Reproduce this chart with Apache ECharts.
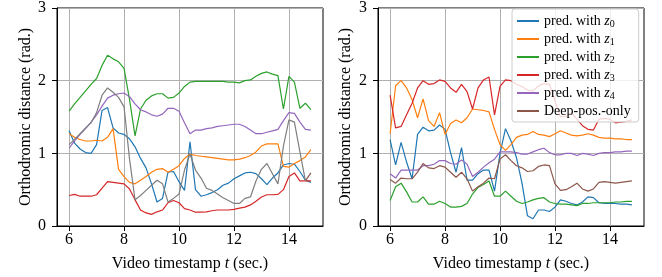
<!DOCTYPE html>
<html><head><meta charset="utf-8">
<script src="https://cdn.jsdelivr.net/npm/echarts@6/dist/echarts.min.js"></script>
<style>html,body{margin:0;padding:0;background:#fff}#c{width:662px;height:277px}</style>
</head><body><div id="c"></div>
<script>
const timestamps = [6.0,6.2,6.4,6.6,6.8,7.0,7.2,7.4,7.6,7.8,8.0,8.2,8.4,8.6,8.8,9.0,9.2,9.4,9.6,9.8,10.0,10.2,10.4,10.6,10.8,11.0,11.2,11.4,11.6,11.8,12.0,12.2,12.4,12.6,12.8,13.0,13.2,13.4,13.6,13.8,14.0,14.2,14.4,14.6,14.8];
const xTicks = [6,8,10,12,14];
const yTicks = [0,1,2,3];
const seriesNames = ['pred. with z0','pred. with z1','pred. with z2','pred. with z3','pred. with z4','Deep-pos.-only'];

// left panel
const leftZ0 = [1.31,1.14,1.06,1.01,1.00,1.12,1.59,1.63,1.35,1.28,1.26,1.20,1.09,0.93,0.80,0.58,0.33,0.38,0.74,0.75,0.61,0.49,1.16,0.50,0.41,0.43,0.46,0.50,0.56,0.59,0.65,0.69,0.73,0.74,0.72,0.65,0.57,0.66,0.73,0.84,0.86,0.85,0.75,0.63,0.60];
const leftZ1 = [1.27,1.22,1.19,1.17,1.17,1.18,1.17,1.22,1.34,0.78,0.68,0.60,0.58,0.63,0.68,0.74,0.78,0.79,0.74,0.78,0.83,0.93,0.99,0.97,0.96,0.95,0.94,0.93,0.92,0.91,0.91,0.92,0.94,0.97,1.02,1.10,1.13,1.13,1.13,0.82,0.81,0.86,0.90,0.95,1.05];
const leftZ2 = [1.58,1.68,1.77,1.86,1.95,2.03,2.21,2.35,2.30,2.26,2.17,1.74,1.24,1.61,1.73,1.79,1.82,1.82,1.76,1.77,1.83,1.92,1.98,1.99,1.99,1.99,1.99,1.99,1.99,1.98,1.98,1.97,2.00,2.01,2.06,2.10,2.12,2.09,2.07,1.61,2.06,1.98,1.62,1.69,1.60];
const leftZ3 = [0.42,0.435,0.41,0.41,0.41,0.43,0.52,0.61,0.60,0.59,0.58,0.51,0.36,0.22,0.18,0.16,0.195,0.22,0.32,0.35,0.32,0.24,0.22,0.19,0.19,0.195,0.21,0.22,0.22,0.22,0.23,0.245,0.26,0.29,0.34,0.40,0.43,0.43,0.435,0.50,0.68,0.73,0.62,0.62,0.62];
const leftZ4 = [1.07,1.17,1.26,1.34,1.43,1.53,1.65,1.76,1.80,1.82,1.83,1.78,1.68,1.60,1.57,1.53,1.51,1.54,1.62,1.62,1.58,1.42,1.27,1.32,1.32,1.34,1.35,1.37,1.38,1.39,1.40,1.40,1.37,1.32,1.27,1.27,1.29,1.31,1.33,1.45,1.56,1.55,1.43,1.33,1.32];
const leftGray = [1.12,1.19,1.27,1.35,1.42,1.56,1.80,1.90,1.84,1.77,1.64,0.92,0.36,0.42,0.49,0.56,0.63,0.58,0.33,0.38,0.44,0.77,0.99,0.77,0.66,0.52,0.49,0.44,0.39,0.35,0.31,0.31,0.38,0.40,0.62,0.78,0.86,0.72,0.58,1.10,1.46,1.43,1.02,0.62,null];
const leftDeep = [null,null,null,null,null,null,null,null,null,null,null,null,null,null,null,null,null,null,null,null,null,null,null,null,null,null,null,null,null,null,null,null,null,null,null,null,null,null,null,null,null,null,null,0.62,0.73];

// right panel
const rightZ0 = [1.19,0.84,1.15,0.88,0.65,1.26,1.36,1.31,1.32,1.39,1.33,1.01,0.74,1.08,0.63,0.63,0.72,0.77,0.77,0.48,1.00,1.34,1.17,0.94,0.59,0.14,0.10,0.22,0.22,0.20,0.26,0.36,0.34,0.31,0.29,0.33,0.40,0.39,0.32,0.31,0.31,0.31,0.30,0.30,0.29];
const rightZ1 = [1.27,1.93,2.00,1.90,1.74,1.49,1.75,1.45,1.37,1.56,1.26,1.41,1.46,1.42,1.49,1.61,1.60,1.59,1.57,1.33,1.12,1.04,1.12,1.22,1.25,1.26,1.30,1.26,1.25,1.23,1.27,1.31,1.28,1.25,1.24,1.25,1.27,1.25,1.22,1.21,1.21,1.20,1.20,1.19,1.19];
const rightZ2 = [0.35,0.54,0.59,0.47,0.33,0.33,0.40,0.30,0.30,0.34,0.31,0.26,0.26,0.27,0.31,0.44,0.53,0.57,0.62,0.41,0.41,0.48,0.41,0.34,0.31,0.33,0.36,0.38,0.39,0.33,0.31,0.30,0.30,0.29,0.28,0.31,0.31,0.32,0.32,0.32,0.32,0.33,0.33,0.34,0.34];
const rightZ3 = [1.80,1.35,1.37,1.53,1.69,1.90,2.00,1.95,1.96,2.01,1.99,1.90,1.84,1.95,1.85,1.61,1.90,2.01,2.05,1.53,1.92,2.01,2.00,1.95,1.92,1.87,1.86,1.93,1.96,1.95,1.72,1.50,1.51,1.56,1.47,1.38,1.33,1.32,1.47,1.48,1.47,1.42,1.43,1.44,1.46];
const rightZ4 = [0.72,0.66,0.77,0.77,0.77,0.77,0.83,0.83,0.85,0.90,0.90,0.86,0.85,0.91,0.85,0.68,0.74,0.81,0.87,0.92,1.02,1.02,1.02,1.01,0.99,0.99,1.02,1.05,1.07,1.01,0.98,0.98,1.00,1.00,0.97,1.00,0.99,0.97,1.00,1.01,1.01,1.02,1.02,1.03,1.03];
const rightDeep = [0.64,0.59,0.66,0.65,0.65,0.74,0.86,0.80,0.79,0.83,0.81,0.74,0.67,0.74,0.65,0.48,0.54,0.59,0.66,0.65,0.92,0.98,0.90,0.83,0.80,0.75,0.76,0.82,0.84,0.83,0.58,0.49,0.50,0.54,0.59,0.51,0.48,0.51,0.60,0.61,0.60,0.59,0.60,0.61,0.62];

const colors = ['#1f77b4','#ff7f0e','#2ca02c','#d62728','#9467bd','#8c564b'];
const FONT = 'Liberation Serif';

function pairs(arr){ return timestamps.map((t,i)=>[t, arr[i]]); }
function line(name, arr, color, idx){
  return {name:name, type:'line', xAxisIndex:idx, yAxisIndex:idx, data:pairs(arr), symbol:'none', showSymbol:false,
    lineStyle:{color:color, width:1.2}, itemStyle:{color:color}, emphasis:{disabled:true}, animation:false, connectNulls:false};
}
function xAxis(idx){
  return {type:'value', gridIndex:idx, min:5.56, max:15.24,
    name:'{n|Video timestamp }{i|t}{n| (sec.)}', nameLocation:'middle', nameGap:30,
    nameTextStyle:{rich:{n:{fontFamily:FONT,fontSize:16,color:'#000'}, i:{fontFamily:FONT,fontSize:16,fontStyle:'italic',color:'#000'}}},
    axisLine:{show:true, lineStyle:{color:'#000', width:1}},
    axisTick:{show:true, customValues:xTicks, length:5, lineStyle:{color:'#000', width:1}},
    axisLabel:{customValues:xTicks, fontFamily:FONT, fontSize:16, color:'#000', margin:6},
    splitLine:{show:true, lineStyle:{color:'#b0b0b0', width:1}}};
}
function yAxis(idx, gap){
  return {type:'value', gridIndex:idx, min:0, max:3, interval:1,
    name:'Orthodromic distance (rad.)', nameLocation:'middle', nameGap:gap,
    nameTextStyle:{fontFamily:FONT, fontSize:16, color:'#000'},
    axisLine:{show:true, lineStyle:{color:'#000', width:1}},
    axisTick:{show:true, length:5, lineStyle:{color:'#000', width:1}},
    axisLabel:{fontFamily:FONT, fontSize:16, color:'#000', margin:11},
    splitLine:{show:true, lineStyle:{color:'#b0b0b0', width:1}}};
}

const chart = echarts.init(document.getElementById('c'), null, {renderer:'canvas'});
const series = [
  line(seriesNames[0], leftZ0, colors[0], 0),
  line(seriesNames[1], leftZ1, colors[1], 0),
  line(seriesNames[2], leftZ2, colors[2], 0),
  line(seriesNames[3], leftZ3, colors[3], 0),
  line(seriesNames[4], leftZ4, colors[4], 0),
  line(seriesNames[5], leftDeep, colors[5], 0),
  line('gray', leftGray, '#7f7f7f', 0),
  line(seriesNames[0], rightZ0, colors[0], 1),
  line(seriesNames[1], rightZ1, colors[1], 1),
  line(seriesNames[2], rightZ2, colors[2], 1),
  line(seriesNames[3], rightZ3, colors[3], 1),
  line(seriesNames[4], rightZ4, colors[4], 1),
  line(seriesNames[5], rightDeep, colors[5], 1)
];
chart.setOption({
  animation:false,
  backgroundColor:'#fff',
  grid:[
    {left:57, top:7, width:266, height:222, show:true, borderColor:'#000', borderWidth:1, backgroundColor:'transparent'},
    {left:378, top:7, width:266, height:222, show:true, borderColor:'#000', borderWidth:1, backgroundColor:'transparent'}
  ],
  xAxis:[xAxis(0), xAxis(1)],
  yAxis:[yAxis(0, 17), yAxis(1, 24)],
  legend:{
    data:seriesNames, orient:'vertical', left:512, top:9,
    itemWidth:22, itemHeight:14, itemGap:3, padding:[5,8,4,4],
    itemStyle:{opacity:0},
    backgroundColor:'rgba(255,255,255,0.8)', borderColor:'#cccccc', borderWidth:1, borderRadius:3,
    selectedMode:false,
    formatter:function(name){
      const m = name.match(/^pred\. with z(\d)$/);
      if (m) return '{a|pred. with }{i|z}{s|' + m[1] + '}';
      return '{a|' + name + '}';
    },
    textStyle:{fontFamily:FONT, fontSize:14, color:'#000',
      rich:{a:{fontFamily:FONT,fontSize:14,color:'#000'},
            i:{fontFamily:FONT,fontSize:14,fontStyle:'italic',color:'#000'},
            s:{fontFamily:FONT,fontSize:10,color:'#000',padding:[6,0,0,0]}}}
  },
  series:series
});
</script></body></html>
